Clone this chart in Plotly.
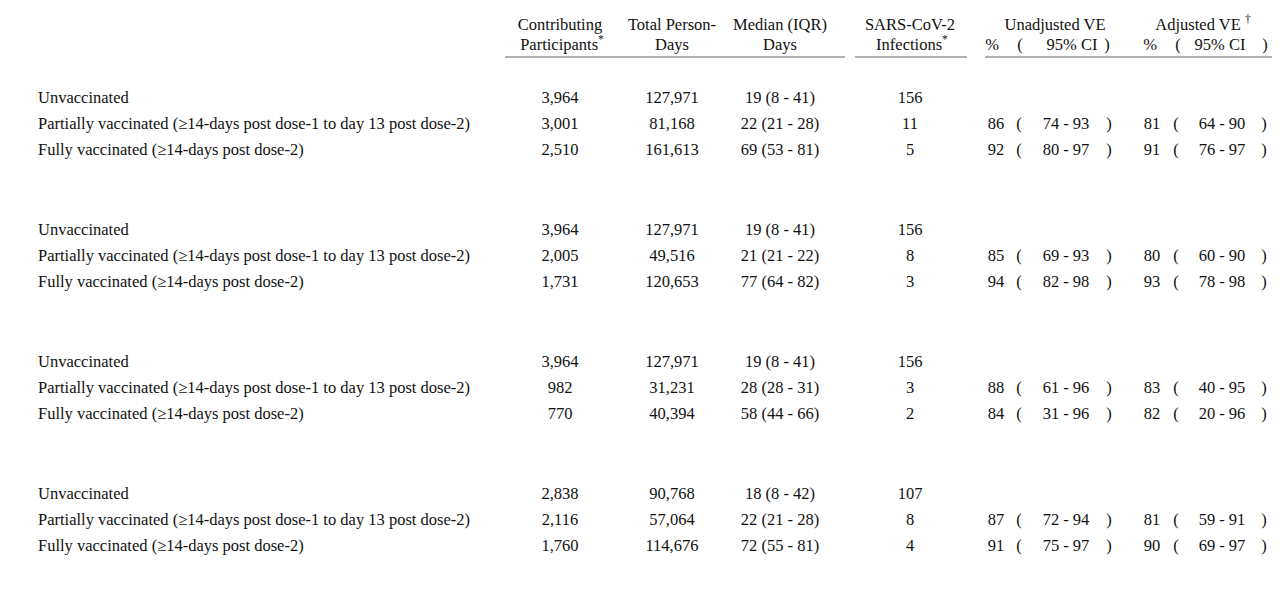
import plotly.graph_objects as go

sections = ["mRNA COVID-19 vaccination status", "Pfizer-BioNTech", "Moderna", "Age < 50", "Age ≥ 50"]
row_labels = ["Unvaccinated",
              "Partially vaccinated (≥14-days post dose-1 to day 13 post dose-2)",
              "Fully vaccinated (≥14-days post dose-2)"]
participants = [["3,964", "3,001", "2,510"], ["3,964", "2,005", "1,731"],
                ["3,964", "982", "770"], ["2,838", "2,116", "1,760"]]
person_days = [["127,971", "81,168", "161,613"], ["127,971", "49,516", "120,653"],
               ["127,971", "31,231", "40,394"], ["90,768", "57,064", "114,676"]]
median_iqr = [["19 (8 - 41)", "22 (21 - 28)", "69 (53 - 81)"], ["19 (8 - 41)", "21 (21 - 22)", "77 (64 - 82)"],
              ["19 (8 - 41)", "28 (28 - 31)", "58 (44 - 66)"], ["18 (8 - 42)", "22 (21 - 28)", "72 (55 - 81)"]]
infections = [["156", "11", "5"], ["156", "8", "3"], ["156", "3", "2"], ["107", "8", "4"]]
unadj_ve = [["", "86", "92"], ["", "85", "94"], ["", "88", "84"], ["", "87", "91"]]
unadj_ci = [["", "74 - 93", "80 - 97"], ["", "69 - 93", "82 - 98"], ["", "61 - 96", "31 - 96"], ["", "72 - 94", "75 - 97"]]
adj_ve = [["", "81", "91"], ["", "80", "93"], ["", "83", "82"], ["", "81", "90"]]
adj_ci = [["", "64 - 90", "76 - 97"], ["", "60 - 90", "78 - 98"], ["", "40 - 95", "20 - 96"], ["", "59 - 91", "69 - 97"]]

FONT = dict(family="Liberation Serif, Times New Roman, serif", size=16.5, color="#111")
Y0, DY = 72, 26.4

fig = go.Figure()

def txt(xs, ys, texts, pos="middle center"):
    fig.add_trace(go.Scatter(x=xs, y=ys, text=texts, mode="text", textposition=pos,
                             textfont=FONT, hoverinfo="skip", showlegend=False, cliponaxis=False))

# section titles (left aligned at x)
sec_y = [Y0 + DY * 5 * i for i in range(len(sections))]
txt([5] * len(sections), sec_y, ["<u>%s</u>" % s for s in sections], "middle right")

ys, labs = [], []
cols = {k: [] for k in ["p", "d", "m", "i", "uv", "uci", "uo", "uc", "av", "aci", "ao", "ac"]}
for s in range(4):
    for r in range(3):
        ys.append(Y0 + DY * (5 * s + r + 1))
        labs.append(row_labels[r])
        cols["p"].append(participants[s][r]); cols["d"].append(person_days[s][r])
        cols["m"].append(median_iqr[s][r]); cols["i"].append(infections[s][r])
        cols["uv"].append(unadj_ve[s][r]); cols["uci"].append(unadj_ci[s][r])
        cols["av"].append(adj_ve[s][r]); cols["aci"].append(adj_ci[s][r])
        has = unadj_ve[s][r] != ""
        cols["uo"].append("(" if has else ""); cols["uc"].append(")" if has else "")
        cols["ao"].append("(" if has else ""); cols["ac"].append(")" if has else "")

n = len(ys)
txt([38] * n, ys, labs, "middle right")
txt([560] * n, ys, cols["p"])
txt([672] * n, ys, cols["d"])
txt([780] * n, ys, cols["m"])
txt([910] * n, ys, cols["i"])
txt([996] * n, ys, cols["uv"])
txt([1019] * n, ys, cols["uo"])
txt([1066] * n, ys, cols["uci"])
txt([1109] * n, ys, cols["uc"])
txt([1152] * n, ys, cols["av"])
txt([1176] * n, ys, cols["ao"])
txt([1222] * n, ys, cols["aci"])
txt([1264] * n, ys, cols["ac"])

# headers
txt([560, 672, 780, 910, 1055, 1203], [26] * 6,
    ["Contributing", "Total Person-", "Median (IQR)", "SARS-CoV-2", "Unadjusted VE", "Adjusted VE <sup>†</sup>"])
txt([562, 672, 780, 912], [46] * 4,
    ["Participants<sup>*</sup>", "Days", "Days", "Infections<sup>*</sup>"])
txt([992, 1020, 1072, 1107, 1150, 1178, 1220, 1265], [46] * 8,
    ["%", "(", "95% CI", ")", "%", "(", "95% CI", ")"])

fig.add_shape(type="line", x0=0, x1=1280, y0=2, y1=2, line=dict(color="#888", width=1.5))
for a, b in [(505, 845), (855, 967), (985, 1280)]:
    fig.add_shape(type="line", x0=a, x1=b, y0=57, y1=57, line=dict(color="#999", width=1.5))

# page body has an 8px margin; shift ranges so data units match pixels
fig.update_xaxes(range=[8, 1288], visible=False, fixedrange=True)
fig.update_yaxes(range=[620, 8], visible=False, fixedrange=True)
fig.update_layout(width=1280, height=612, margin=dict(l=0, r=0, t=0, b=0),
                  plot_bgcolor="white", paper_bgcolor="white")
fig.write_html("out.html")
